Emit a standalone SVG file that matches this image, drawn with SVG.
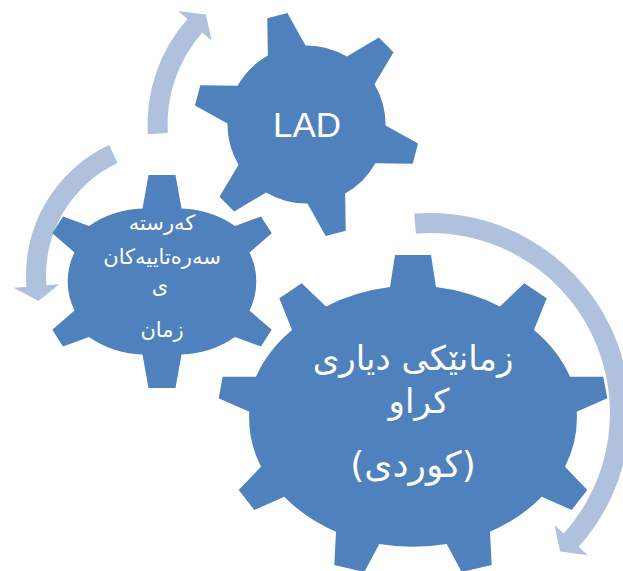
<svg xmlns="http://www.w3.org/2000/svg" width="623" height="571" viewBox="0 0 623 571">
<style>
.gear{fill:#4F81BD;}
.arrow{fill:#B0C1DD;}
.lat{font-family:"Liberation Sans",Arial,sans-serif;fill:#FFFFFF;text-anchor:middle;}
.ar{font-family:"DejaVu Sans","Noto Sans",sans-serif;fill:#FFFFFF;text-anchor:middle;}
</style>
<rect width="623" height="571" fill="#FFFFFF"/>
<g id="connectors">
<path class="arrow" d="M 414.3,213.6 A 200 200 0 0 1 578.6,546.8 L 587.9,555.2 L 560.1,551.5 L 554.5,525.1 L 563.8,533.4 A 180 180 0 0 0 415.9,233.6 Z"/>
<path class="arrow" d="M 147.8,134.2 A 159 159 0 0 1 187.4,19.1 L 178.0,10.9 L 205.8,14.6 L 211.8,40.7 L 202.4,32.4 A 139 139 0 0 0 167.8,133.0 Z"/>
<path class="arrow" d="M 109.1,145.0 A 144 144 0 0 0 26.4,286.8 L 13.5,287.8 L 38.5,301.1 L 59.3,284.2 L 46.4,285.2 A 124 124 0 0 1 117.6,163.1 Z"/>
</g>
<g id="gear-big">
<path class="gear" d="M 390,287 L 395,255 L 431,255 L 436,287 A 164 130 0 0 1 500,306.5 L 524.3,283.3 L 546.7,298.3 L 534,330 A 164 130 0 0 1 570,376.7 L 603.3,376.7 L 607.3,398.3 L 576.7,411.7 A 164 130 0 0 1 565,466.7 L 587.3,490 L 571.7,510 L 541.7,496.7 A 164 130 0 0 1 490,531.7 L 491.7,565 L 461.7,572 L 446.7,544 A 164 130 0 0 1 379.3,544 L 364.3,572 L 334.3,565 L 336,531.7 A 164 130 0 0 1 284.3,496.7 L 254.3,510 L 238.7,490 L 261,466.7 A 164 130 0 0 1 249.3,411.7 L 218.7,398.3 L 222.7,376.7 L 256,376.7 A 164 130 0 0 1 292,330 L 279.3,298.3 L 301.7,283.3 L 326,306.5 A 164 130 0 0 1 390,287 Z"/>
<text class="ar" direction="rtl" x="413" y="370" font-size="34">زمانێکی دیاری</text>
<text class="ar" direction="rtl" x="419" y="413" font-size="34">کراو</text>
<text class="ar" direction="rtl" x="413" y="477" font-size="36">(کوردی)</text>
</g>
<g id="gear-lad">
<path class="gear" d="M 267.84,55.56 L 267.28,18.33 L 287.38,12.95 L 305.52,45.46 A 79 79 0 0 1 346.87,56.55 L 378.84,37.46 L 393.54,52.16 L 374.45,84.13 A 79 79 0 0 1 385.54,125.48 L 418.05,143.62 L 412.67,163.72 L 375.44,163.16 A 79 79 0 0 1 345.16,193.44 L 345.72,230.67 L 325.62,236.05 L 307.48,203.54 A 79 79 0 0 1 266.13,192.45 L 234.16,211.54 L 219.46,196.84 L 238.55,164.87 A 79 79 0 0 1 227.46,123.52 L 194.95,105.38 L 200.33,85.28 L 237.56,85.84 A 79 79 0 0 1 267.84,55.56 Z"/>
<text class="lat" x="307" y="136.7" font-size="35">LAD</text>
</g>
<g id="gear-small">
<path class="gear" d="M 142.5,208.5 L 148.5,175 L 175.5,175 L 181.5,208.5 A 90 76 0 0 1 235,226 L 261,216.5 L 271.7,233.3 L 249.5,252.5 A 90 76 0 0 1 249.5,310.5 L 271.7,329.7 L 261,346.5 L 235,337 A 90 76 0 0 1 181.5,354.5 L 175.5,388 L 148.5,388 L 142.5,354.5 A 90 76 0 0 1 89,337 L 63,346.5 L 52.3,329.7 L 74.5,310.5 A 90 76 0 0 1 74.5,252.5 L 52.3,233.3 L 63,216.5 L 89,226 A 90 76 0 0 1 142.5,208.5 Z"/>
<text class="ar" direction="rtl" x="162" y="230" font-size="21">کەرستە</text>
<text class="ar" direction="rtl" x="162" y="264" font-size="21">سەرەتاییەکان</text>
<text class="ar" direction="rtl" x="160" y="293" font-size="21">ی</text>
<text class="ar" direction="rtl" x="162" y="337" font-size="21">زمان</text>
</g>
</svg>
